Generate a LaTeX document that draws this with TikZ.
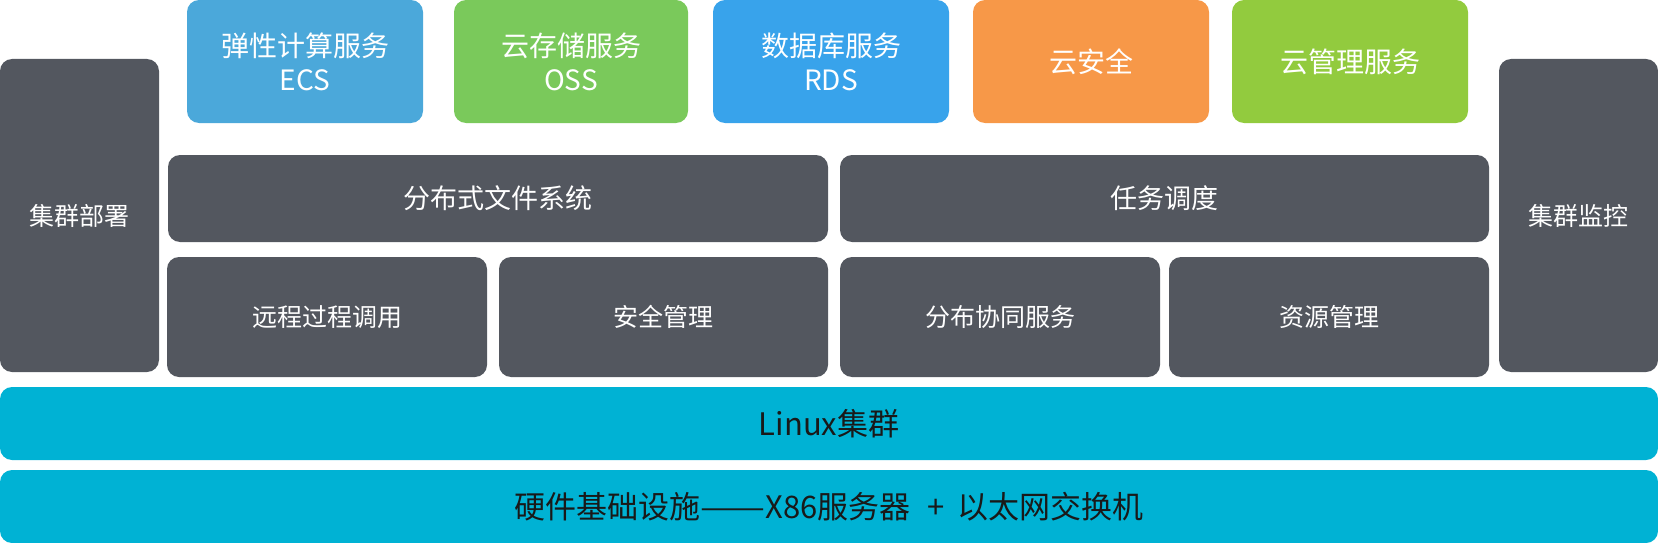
\documentclass[tikz,border=0pt]{standalone}
\usepackage{fontspec}
\setmainfont{Noto Sans CJK SC}
\usetikzlibrary{positioning}
\definecolor{ecsblue}{HTML}{4BA8DA}
\definecolor{ossgreen}{HTML}{7AC95B}
\definecolor{rdsblue}{HTML}{38A3EB}
\definecolor{secorange}{HTML}{F79848}
\definecolor{mgmtgreen}{HTML}{92CB3E}
\definecolor{layergray}{HTML}{53575F}
\definecolor{basecyan}{HTML}{00B2D4}
\tikzset{
  blk/.style={rectangle, rounded corners=12pt, inner sep=0pt, align=center},
  topbox/.style={blk, text=white, minimum height=123pt,
    font=\fontsize{28}{34}\selectfont},
  graybox/.style={blk, fill=layergray, text=white,
    font=\fontsize{25}{30}\selectfont},
  basebox/.style={blk, fill=basecyan, text=black!90,
    minimum width=1658pt, minimum height=73pt,
    font=\fontsize{31}{36}\selectfont}
}
\begin{document}
\begin{tikzpicture}[x=1pt,y=-1pt]
\useasboundingbox (0,0) rectangle (1658,543);
% top row: services
\node [topbox, fill=ecsblue, minimum width=236pt] (ecs) at (305,61.5) {弹性计算服务\\ECS};
\node [topbox, fill=ossgreen, minimum width=234pt] (oss) at (571,61.5) {云存储服务\\OSS};
\node [topbox, fill=rdsblue, minimum width=236pt] (rds) at (831,61.5) {数据库服务\\RDS};
\node [topbox, fill=secorange, minimum width=236pt] (cloudsec) at (1091,61.5) {云安全};
\node [topbox, fill=mgmtgreen, minimum width=236pt] (cloudmgmt) at (1350,61.5) {云管理服务};
% side columns
\node [graybox, minimum width=159pt, minimum height=313pt] (deploy) at (79.5,215.5) {集群部署};
\node [graybox, minimum width=159pt, minimum height=313pt] (monitor) at (1578.5,215.5) {集群监控};
% middle layers
\node [graybox, minimum width=660pt, minimum height=87pt, font=\fontsize{27}{32}\selectfont] (dfs) at (498,198.5) {分布式文件系统};
\node [graybox, minimum width=649pt, minimum height=87pt, font=\fontsize{27}{32}\selectfont] (sched) at (1164.5,198.5) {任务调度};
\node [graybox, minimum width=320pt, minimum height=120pt] (rpc) at (327,317) {远程过程调用};
\node [graybox, minimum width=329pt, minimum height=120pt] (secmgr) at (663.5,317) {安全管理};
\node [graybox, minimum width=320pt, minimum height=120pt] (coord) at (1000,317) {分布协同服务};
\node [graybox, minimum width=320pt, minimum height=120pt] (resmgr) at (1329,317) {资源管理};
% base layers
\node [basebox] (linux) at (829,423.5) {Linux集群};
\node [basebox] (hw) at (829,506.5) {硬件基础设施\scalebox{1.25}[1]{——}X86服务器\hspace{0.55em}+\hspace{0.4em}以太网交换机};
\end{tikzpicture}
\end{document}
